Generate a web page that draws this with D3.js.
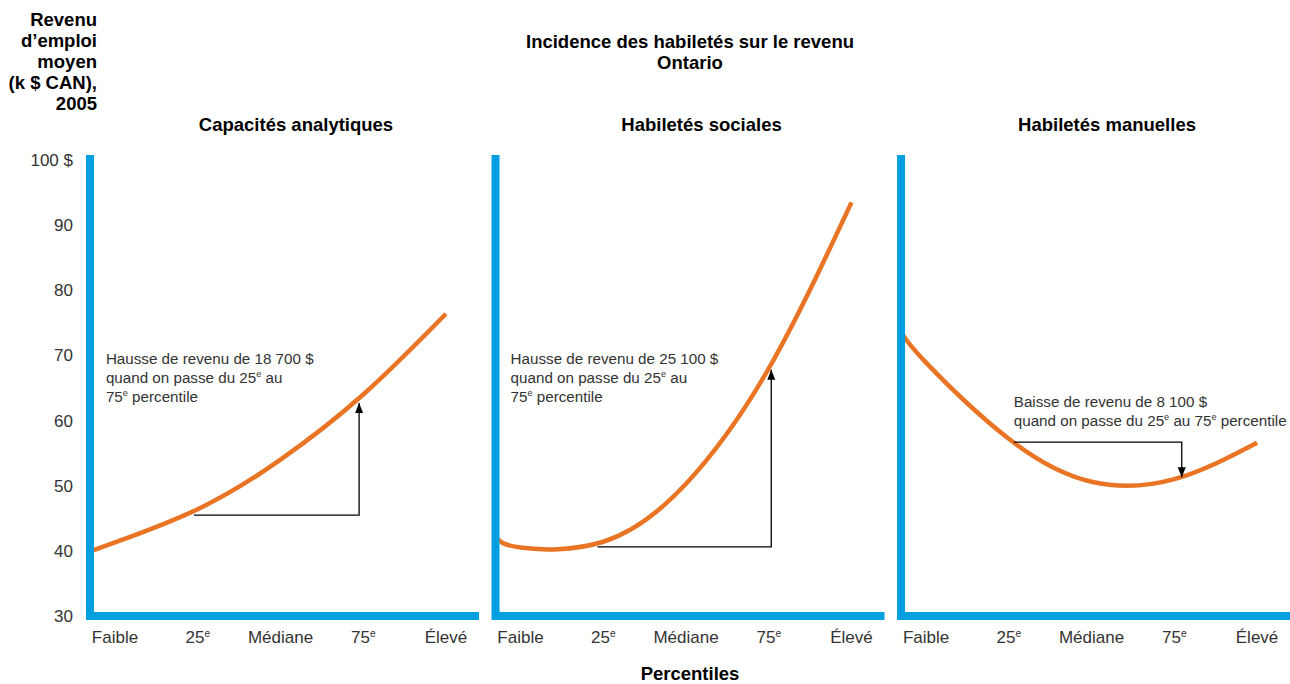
<!DOCTYPE html>
<html>
<head>
<meta charset="utf-8">
<style>
body { margin: 0; background: #fff; }
text { font-family: "Liberation Sans", Arial, Helvetica, sans-serif; }
.title, .ptitle, .xtitle { font-weight: bold; fill: #000; font-size: 18.5px; }
.ytitle { font-weight: bold; fill: #000; font-size: 18.5px; }
.tick text { font-size: 17px; fill: #333; }
.lvl { font-size: 17px; fill: #333; text-anchor: middle; }
.note { font-size: 15.2px; fill: #333; }
</style>
</head>
<body>
<svg width="1290" height="684"></svg>
<script src="https://cdn.jsdelivr.net/npm/d3@7"></script>
<script>
// data
var skills = ["Capacités analytiques", "Habiletés sociales", "Habiletés manuelles"];
var levels = ["Faible", "25e", "Médiane", "75e", "Élevé"];
var yTicks = [30, 40, 50, 60, 70, 80, 90, 100];
// positions on the percentile axis (0 = Faible ... 4 = Élevé); the first one sits under the axis bar
var curvePos = [-0.3, 0, 1, 2, 3, 4];
var analytiques = [39.9, 41.3, 46.4, 54.0, 64.0, 76.4];
var sociales = [42.2, 40.5, 41.4, 50.3, 68.0, 93.5];
var manuelles = [73.6, 68.9, 57.2, 50.6, 51.0, 56.6];
var series = [analytiques, sociales, manuelles];

var notes = [
  { lines: ["Hausse de revenu de 18 700 $", "quand on passe du 25e au", "75e percentile"],
    tx: -0.11, tv: 68.7, from: 0.955, to: 2.95, base: 45.5, tip: 62.7 },
  { lines: ["Hausse de revenu de 25 100 $", "quand on passe du 25e au", "75e percentile"],
    tx: -0.12, tv: 68.7, from: 0.93, to: 3.03, base: 40.6, tip: 67.8 },
  { lines: ["Baisse de revenu de 8 100 $", "quand on passe du 25e au 75e percentile"],
    tx: 1.06, tv: 62.1, from: 1.06, to: 3.09, base: 56.7, tip: 51.3 }
];

var svg = d3.select("svg");
var blue = "#009fdf", orange = "#e87424";

var panel = d3.scaleBand().domain(skills).range([86, 1290]).paddingInner(0.031);
var y = d3.scaleLinear().domain([30, 100]).range([616, 160]);

// writes "25e" with a superscript e
function supText(sel, str) {
  var parts = str.split(/(\d+)e\b/);
  var shift = 0;
  for (var i = 0; i < parts.length; i++) {
    if (i % 2 === 1) {
      sel.append("tspan").attr("dy", shift).text(parts[i]);
      sel.append("tspan").attr("dy", -6).style("font-size", "0.6em").text("e");
      shift = 6;
    } else if (parts[i]) {
      sel.append("tspan").attr("dy", shift).text(parts[i]);
      shift = 0;
    }
  }
}

svg.append("defs").append("marker")
    .attr("id", "arrow")
    .attr("markerUnits", "userSpaceOnUse")
    .attr("viewBox", "0 0 10 10")
    .attr("refX", 10).attr("refY", 5)
    .attr("markerWidth", 10).attr("markerHeight", 10)
    .attr("orient", "auto")
  .append("path")
    .attr("d", "M0,1 L10,5 L0,9 Z")
    .attr("fill", "#000");

// titles
svg.append("text").attr("class", "title").attr("x", 690).attr("y", 48)
    .attr("text-anchor", "middle").text("Incidence des habiletés sur le revenu");
svg.append("text").attr("class", "title").attr("x", 690).attr("y", 69)
    .attr("text-anchor", "middle").text("Ontario");

var ytitle = ["Revenu", "d’emploi", "moyen", "(k $ CAN),", "2005"];
svg.append("g").selectAll("text").data(ytitle).enter().append("text")
    .attr("class", "ytitle")
    .attr("x", 97).attr("y", function(d, i) { return 26 + i * 21; })
    .attr("text-anchor", "end")
    .text(function(d) { return d; });

svg.append("text").attr("class", "xtitle").attr("x", 690).attr("y", 680)
    .attr("text-anchor", "middle").text("Percentiles");

// y axis labels
var yAxis = d3.axisLeft(y).tickValues(yTicks).tickSize(0).tickPadding(13)
    .tickFormat(function(d) { return d === 100 ? "100 $" : d; });
svg.append("g").attr("transform", "translate(86,0)").call(yAxis)
    .call(function(g) { g.select(".domain").remove(); })
    .selectAll("text").attr("font-family", null);

skills.forEach(function(name, p) {
  var L = panel(name), R = L + panel.bandwidth();
  var x = d3.scaleLinear().domain([0, 4]).range([L + 29, L + 360]);
  var g = svg.append("g");

  g.append("text").attr("class", "ptitle")
      .attr("x", L + 210).attr("y", 131)
      .attr("text-anchor", "middle").text(name);

  // curve
  var pts = curvePos.map(function(t, i) { return [t, series[p][i]]; });
  g.append("path")
      .datum(pts)
      .attr("fill", "none")
      .attr("stroke", orange)
      .attr("stroke-width", 4.5)
      .attr("d", d3.line()
          .x(function(d) { return x(d[0]); })
          .y(function(d) { return y(d[1]); })
          .curve(d3.curveNatural));

  // annotation
  var n = notes[p];
  g.append("path")
      .attr("fill", "none")
      .attr("stroke", "#000")
      .attr("stroke-width", 1.3)
      .attr("marker-end", "url(#arrow)")
      .attr("d", "M" + x(n.from) + "," + y(n.base) + "H" + x(n.to) + "V" + y(n.tip));
  n.lines.forEach(function(line, i) {
    var t = g.append("text").attr("class", "note")
        .attr("x", x(n.tx)).attr("y", y(n.tv) + i * 19);
    supText(t, line);
  });

  // axis bars
  g.append("path")
      .attr("fill", "none")
      .attr("stroke", blue)
      .attr("stroke-width", 8)
      .attr("stroke-linejoin", "miter")
      .attr("d", "M" + (L + 4) + "," + (y(100) - 5) + "V" + y(30) + "H" + R);

  // level labels
  levels.forEach(function(lv, i) {
    var t = g.append("text").attr("class", "lvl").attr("x", x(i)).attr("y", 643);
    supText(t, lv);
  });
});
</script>
</body>
</html>
